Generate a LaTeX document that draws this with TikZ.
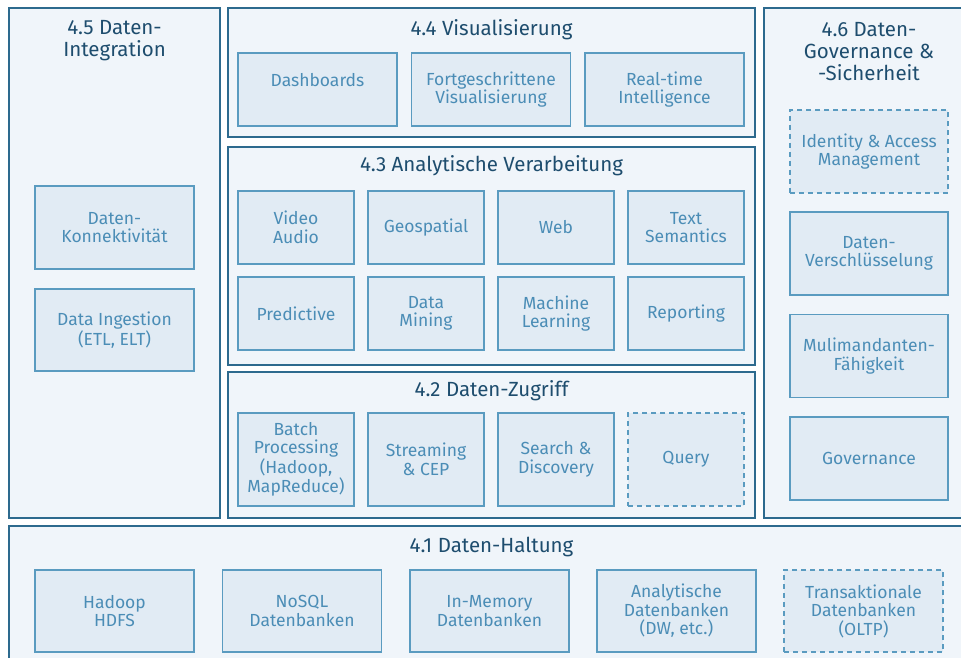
\documentclass[tikz,border=0pt]{standalone}
\usepackage{fontspec}
\setmainfont{Fira Sans}
\definecolor{rahmen}{HTML}{2D6A8E}
\definecolor{flaeche}{HTML}{F0F5FA}
\definecolor{kasten}{HTML}{E1EBF4}
\definecolor{kastenrand}{HTML}{5A9BC0}
\definecolor{titel}{HTML}{1E4D6E}
\definecolor{schrift}{HTML}{4B8DB6}
\begin{document}
\begin{tikzpicture}[x=1pt,y=-1pt,
  schicht/.style={draw=rahmen,line width=1.6pt,fill=flaeche,inner sep=0pt},
  kopf/.style={text=titel,align=center,font=\fontsize{20.5}{22}\selectfont},
  baustein/.style={draw=kastenrand,line width=1.5pt,fill=kasten,text=schrift,
    align=center,inner sep=0pt,font=\fontsize{17.5}{18.5}\selectfont},
  optional/.style={baustein,dash pattern=on 5pt off 4pt}]
\clip (0,0) rectangle (961,658);
% Schichten
\node[schicht,minimum width=211,minimum height=510] (int) at (114.5,263) {};
\node[schicht,minimum width=527,minimum height=129] (vis) at (491.5,72.5) {};
\node[schicht,minimum width=527,minimum height=218] (ana) at (491.5,256) {};
\node[schicht,minimum width=527,minimum height=146] (zug) at (491.5,445) {};
\node[schicht,minimum width=211,minimum height=510] (gov) at (869.5,263) {};
\node[schicht,minimum width=966,minimum height=144] (hal) at (492,598) {};
% Ueberschriften
\node[kopf] (int-t) at (114.5,41) {4.5 Daten-\\Integration};
\node[kopf] (vis-t) at (491.5,30) {4.4 Visualisierung};
\node[kopf] (ana-t) at (491.5,166) {4.3 Analytische Verarbeitung};
\node[kopf] (zug-t) at (491.5,391) {4.2 Daten-Zugriff};
\node[kopf] (gov-t) at (869,52) {4.6 Daten-\\Governance \&\\-Sicherheit};
\node[kopf] (hal-t) at (491.5,547) {4.1 Daten-Haltung};
% 4.5
\node[baustein,minimum width=159,minimum height=83] (konn) at (114.5,227.5) {Daten-\\Konnektivität};
\node[baustein,minimum width=159,minimum height=82] (ingest) at (114.5,330) {Data Ingestion\\(ETL, ELT)};
% 4.4
\node[baustein,minimum width=159,minimum height=73] (dash) at (317.5,89.5) {Dashboards\\\phantom{X}};
\node[baustein,minimum width=159,minimum height=73] (fort) at (491,89.5) {Fortgeschrittene\\Visualisierung};
\node[baustein,minimum width=159,minimum height=73] (real) at (664.5,89.5) {Real-time\\Intelligence};
% 4.3
\node[baustein,minimum width=116,minimum height=73] (video) at (296,227.5) {Video\\Audio};
\node[baustein,minimum width=116,minimum height=73] (geo) at (426,227.5) {Geospatial};
\node[baustein,minimum width=116,minimum height=73] (web) at (556,227.5) {Web};
\node[baustein,minimum width=116,minimum height=73] (text) at (686,227.5) {Text\\Semantics};
\node[baustein,minimum width=116,minimum height=73] (pred) at (296,313.5) {Predictive};
\node[baustein,minimum width=116,minimum height=73] (mining) at (426,313.5) {Data\\Mining};
\node[baustein,minimum width=116,minimum height=73] (ml) at (556,313.5) {Machine\\Learning};
\node[baustein,minimum width=116,minimum height=73] (report) at (686,313.5) {Reporting};
% 4.2
\node[baustein,minimum width=116,minimum height=93] (batch) at (296,459.5) {Batch\\Processing\\(Hadoop,\\MapReduce)};
\node[baustein,minimum width=116,minimum height=93] (stream) at (426,459.5) {Streaming\\\& CEP};
\node[baustein,minimum width=116,minimum height=93] (search) at (556,459.5) {Search \&\\Discovery};
\node[optional,minimum width=116,minimum height=93] (query) at (686,459.5) {Query};
% 4.6
\node[optional,minimum width=158,minimum height=83] (iam) at (869,151.5) {Identity \& Access\\Management};
\node[baustein,minimum width=158,minimum height=83] (crypt) at (869,253.5) {Daten-\\Verschlüsselung};
\node[baustein,minimum width=158,minimum height=83] (mandant) at (869,356) {Mulimandanten-\\Fähigkeit};
\node[baustein,minimum width=158,minimum height=83] (govern) at (869,458.5) {Governance};
% 4.1
\node[baustein,minimum width=159,minimum height=82] (hdfs) at (114.5,611) {Hadoop\\HDFS};
\node[baustein,minimum width=159,minimum height=82] (nosql) at (302,611) {NoSQL\\Datenbanken};
\node[baustein,minimum width=159,minimum height=82] (inmem) at (489.5,611) {In-Memory\\Datenbanken};
\node[baustein,minimum width=159,minimum height=82] (dw) at (676.5,611) {Analytische\\Datenbanken\\(DW, etc.)};
\node[optional,minimum width=159,minimum height=82] (oltp) at (863.5,611) {Transaktionale\\Datenbanken\\(OLTP)};
\end{tikzpicture}
\end{document}
